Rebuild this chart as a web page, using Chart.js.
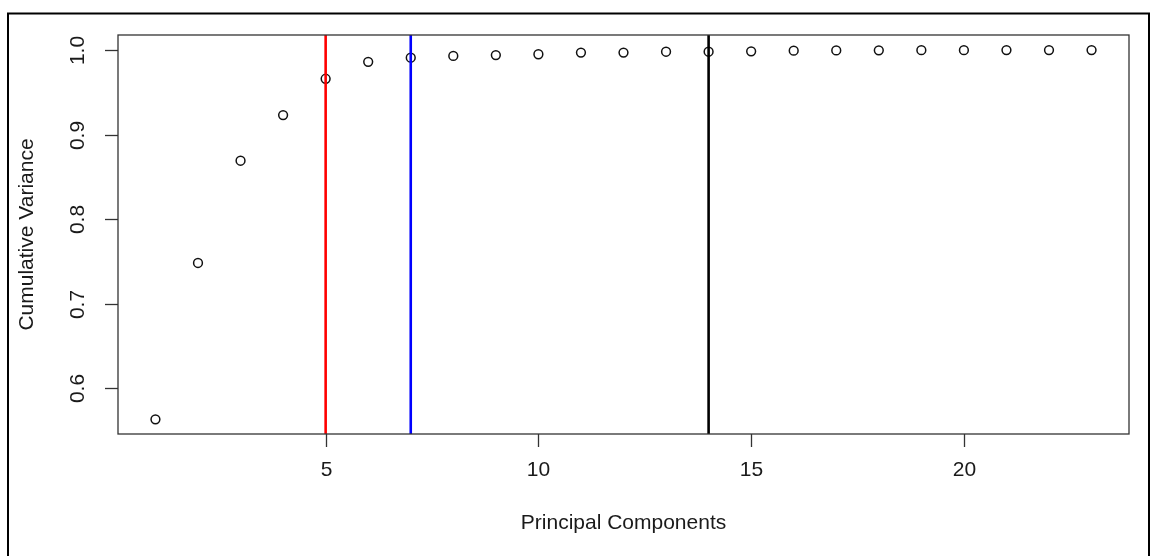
<!DOCTYPE html>
<html>
<head>
<meta charset="utf-8">
<title>Cumulative Variance</title>
<script src="https://cdn.jsdelivr.net/npm/chart.js@4/dist/chart.umd.min.js"></script>
<style>
  html, body { margin: 0; padding: 0; background: #fff; }
  #wrap { width: 1152px; height: 556px; }
</style>
</head>
<body>
<div id="wrap"><canvas id="pca" width="1152" height="556"></canvas></div>
<script>
// principal component index and cumulative share of variance
const components  = [1, 2, 3, 4, 5, 6, 7, 8, 9, 10, 11, 12, 13, 14, 15, 16, 17, 18, 19, 20, 21, 22, 23];
const cumVariance = [0.563, 0.748, 0.869, 0.923, 0.966, 0.986, 0.991, 0.993, 0.994, 0.995, 0.997, 0.997,
                     0.998, 0.998, 0.9985, 0.9992, 0.9995, 0.9997, 0.9998, 0.9999, 1.0, 1.0, 1.0];

// cut-off lines (component number, colour)
const cutoffs      = [5, 7, 14];
const cutoffColors = ['#ff0000', '#0000ff', '#000000'];

const xTicks = [5, 10, 15, 20];
const yTicks = [0.6, 0.7, 0.8, 0.9, 1.0];

const X_MIN = 0.12, X_MAX = 23.88;
const Y_MIN = 0.5456, Y_MAX = 1.0178;

const FONT = '21px "Liberation Sans", Arial, sans-serif';
const INK  = '#1a1a1a';

// base-graphics style box, ticks and labels drawn off the chart's own scales
const baseAxes = {
  id: 'baseAxes',
  afterDraw(chart) {
    const { ctx, chartArea: a, scales: { x, y } } = chart;
    ctx.save();

    ctx.strokeStyle = '#333';
    ctx.lineWidth = 1.3;
    ctx.strokeRect(a.left, a.top, a.right - a.left, a.bottom - a.top);

    ctx.fillStyle = INK;
    ctx.font = FONT;

    // x axis
    ctx.textAlign = 'center';
    ctx.textBaseline = 'middle';
    xTicks.forEach((v) => {
      const px = Math.round(x.getPixelForValue(v)) + 0.5;
      ctx.beginPath();
      ctx.moveTo(px, a.bottom);
      ctx.lineTo(px, a.bottom + 13);
      ctx.stroke();
      ctx.fillText(String(v), px, a.bottom + 36);
    });
    ctx.fillText('Principal Components', (a.left + a.right) / 2, a.bottom + 89);

    // y axis, labels turned to read upwards
    yTicks.forEach((v) => {
      const py = Math.round(y.getPixelForValue(v)) + 0.5;
      ctx.beginPath();
      ctx.moveTo(a.left, py);
      ctx.lineTo(a.left - 13, py);
      ctx.stroke();
      ctx.save();
      ctx.translate(a.left - 40, py);
      ctx.rotate(-Math.PI / 2);
      ctx.fillText(v.toFixed(1), 0, 0);
      ctx.restore();
    });
    ctx.save();
    ctx.translate(27, (a.top + a.bottom) / 2);
    ctx.rotate(-Math.PI / 2);
    ctx.fillText('Cumulative Variance', 0, 0);
    ctx.restore();

    // outer figure frame
    ctx.strokeStyle = '#000';
    ctx.lineWidth = 2;
    ctx.strokeRect(8, 13.5, 1141, 600);

    ctx.restore();
  }
};

const lineSets = cutoffs.map((c, i) => ({
  type: 'line',
  data: [{ x: c, y: Y_MIN }, { x: c, y: Y_MAX }],
  borderColor: cutoffColors[i],
  borderWidth: 2.6,
  pointRadius: 0,
  fill: false,
  order: 0,
}));

new Chart(document.getElementById('pca'), {
  type: 'scatter',
  data: {
    datasets: [{
      data: components.map((c, i) => ({ x: c, y: cumVariance[i] })),
      pointStyle: 'circle',
      pointRadius: 4.4,
      pointBorderWidth: 1.5,
      pointBorderColor: '#111',
      pointBackgroundColor: 'rgba(0,0,0,0)',
      order: 1,
    }, ...lineSets],
  },
  options: {
    responsive: false,
    animation: false,
    layout: { padding: { left: 118, top: 35, right: 23, bottom: 122 } },
    plugins: { legend: { display: false }, tooltip: { enabled: false } },
    scales: {
      x: { type: 'linear', min: X_MIN, max: X_MAX, display: false },
      y: { type: 'linear', min: Y_MIN, max: Y_MAX, display: false },
    },
  },
  plugins: [baseAxes],
});
</script>
</body>
</html>
